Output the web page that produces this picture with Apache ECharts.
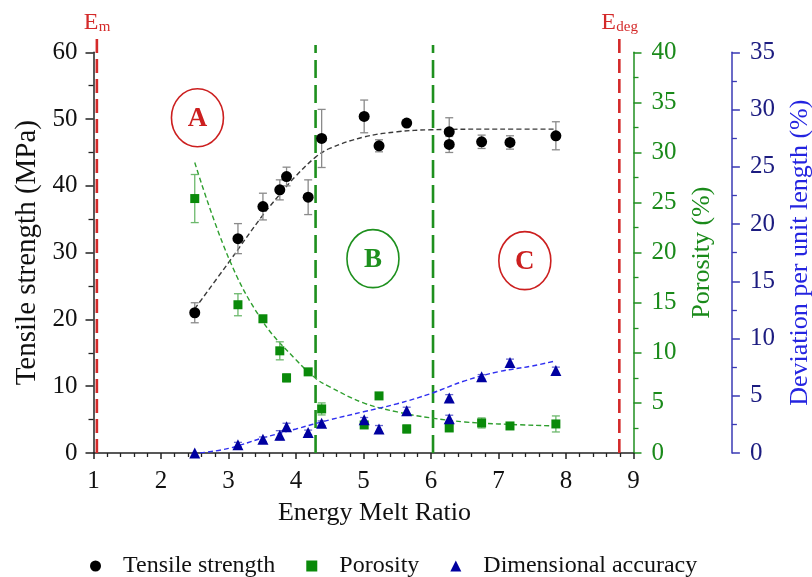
<!DOCTYPE html>
<html><head><meta charset="utf-8">
<script src="https://cdn.jsdelivr.net/npm/echarts@6/dist/echarts.min.js"></script>
<style>html,body{margin:0;padding:0;background:#fff}#c{width:812px;height:577px}</style>
</head><body><div id="c"></div>
<script>
// ---------------- data ----------------
const xTickLabels = ['1','2','3','4','5','6','7','8','9'];
const tensileX   = [2.50, 3.14, 3.51, 3.76, 3.86, 4.18, 4.38, 5.01, 5.23, 5.64, 6.27, 6.27, 6.75, 7.17, 7.85];
const tensileY   = [21.0, 32.1, 36.9, 39.4, 41.4, 38.3, 47.1, 50.4, 46.0, 49.4, 48.1, 46.2, 46.6, 46.5, 47.5];
const tensileErr = [1.5, 2.25, 2.0, 1.5, 1.4, 2.6, 4.35, 2.45, 0.9, 0, 2.1, 1.2, 1.0, 1.0, 2.1];
const porosityX   = [2.50, 3.14, 3.51, 3.76, 3.86, 4.18, 4.38, 5.01, 5.23, 5.64, 6.27, 6.75, 7.17, 7.85];
const porosityY   = [25.4, 14.8, 13.4, 10.2, 7.5, 8.1, 4.4, 2.8, 5.7, 2.4, 2.5, 3.0, 2.7, 2.9];
const porosityErr = [2.4, 1.1, 0.3, 0.9, 0.4, 0.3, 0.6, 0.3, 0.3, 0.4, 0.3, 0.5, 0.3, 0.8];
const accuracyX   = [2.50, 3.14, 3.51, 3.76, 3.86, 4.18, 4.38, 5.01, 5.23, 5.64, 6.27, 6.27, 6.75, 7.17, 7.85];
const accuracyY   = [0.0, 0.73, 1.2, 1.55, 2.3, 1.8, 2.6, 2.9, 2.1, 3.7, 4.8, 3.0, 6.65, 7.9, 7.2];
const accuracyErr = [0, 0.2, 0.2, 0.4, 0.3, 0.2, 0.2, 0.2, 0.3, 0.3, 0.3, 0.3, 0.2, 0.3, 0.3];
// dashed trend curves
const tensileFitX  = [2.5, 3.0, 3.5, 3.75, 4.0, 4.29, 4.5, 5.0, 5.5, 6.0, 7.0, 7.85];
const tensileFitY  = [21.6, 28.5, 35.5, 38.6, 41.5, 44.3, 45.6, 47.3, 48.1, 48.4, 48.5, 48.5];
const porosityFitX = [2.5, 3.0, 3.5, 4.0, 4.3, 4.5, 5.0, 5.5, 6.0, 6.5, 7.0, 7.85];
const porosityFitY = [29.0, 19.5, 13.2, 9.3, 7.4, 6.6, 5.0, 4.1, 3.5, 3.1, 2.9, 2.7];
const accuracyFitX = [2.58, 3.0, 3.5, 4.0, 4.5, 5.0, 5.5, 6.0, 6.5, 7.0, 7.5, 7.85];
const accuracyFitY = [0.0, 0.4, 1.3, 2.1, 2.9, 3.6, 4.3, 5.2, 6.3, 7.1, 7.6, 8.05];
// region boundaries and annotations
const boundaryX      = [1.05, 4.29, 6.03, 8.79];
const boundaryKind   = ['red', 'green', 'green', 'red'];
const energyLabelX   = [1.05, 8.79];
const energyLabelSub = ['m', 'deg'];
const regionLabels = ['A', 'B', 'C'];
const regionX      = [2.54, 5.14, 7.39];
const regionY      = [50.2, 29.1, 28.8];
const regionKind   = ['red', 'green', 'red'];

// ---------------- styles ----------------
const FONT = '"Liberation Serif", "Times New Roman", serif';
const RED = '#d42a2a', GREEN = '#1a8a1a', BLUE_AX = '#3a3ab4', BLUE_LBL = '#1c1c80', BLUE_TTL = '#2424e0';
const kindColor = {red: RED, green: '#1e901e'};

const ctx = document.createElement('canvas').getContext('2d');
function textW(t, size) { ctx.font = size + 'px ' + FONT; return ctx.measureText(t).width; }

function errorSeries(name, xs, ys, errs, yAxisIndex, color) {
  return {
    type: 'custom', name: name, yAxisIndex: yAxisIndex, z: 3, silent: true,
    data: xs.map((x, i) => [x, ys[i], errs[i]]),
    renderItem(params, api) {
      const x = api.value(0), y = api.value(1), e = api.value(2);
      if (!e) return null;
      const t = api.coord([x, y + e]), b = api.coord([x, y - e]);
      const hw = 4, st = {stroke: color, lineWidth: 1.3};
      return {type: 'group', children: [
        {type: 'line', shape: {x1: t[0], y1: t[1], x2: b[0], y2: b[1]}, style: st},
        {type: 'line', shape: {x1: t[0] - hw, y1: t[1], x2: t[0] + hw, y2: t[1]}, style: st},
        {type: 'line', shape: {x1: b[0] - hw, y1: b[1], x2: b[0] + hw, y2: b[1]}, style: st}
      ]};
    }
  };
}

const series = [];
// vertical dashed region boundaries
boundaryX.forEach((x, i) => {
  const isRed = boundaryKind[i] === 'red';
  series.push({
    type: 'line', name: 'boundary' + i, yAxisIndex: 0, symbol: 'none', clip: false, silent: true, z: 1,
    data: [[x, 0], [x, isRed ? 62.4 : 61.1]],
    lineStyle: {color: kindColor[boundaryKind[i]], width: 2.6, type: isRed ? [14, 6] : [18, 7]}
  });
});
// fits
series.push({type: 'line', name: 'tensileFit', yAxisIndex: 0, symbol: 'none', smooth: 0.4, silent: true, z: 2,
  data: tensileFitX.map((x, i) => [x, tensileFitY[i]]), lineStyle: {color: '#3a3a3a', width: 1.4, type: [5, 3]}});
series.push({type: 'line', name: 'porosityFit', yAxisIndex: 1, symbol: 'none', smooth: 0.4, silent: true, z: 2,
  data: porosityFitX.map((x, i) => [x, porosityFitY[i]]), lineStyle: {color: '#2f9f2f', width: 1.4, type: [5, 3]}});
series.push({type: 'line', name: 'accuracyFit', yAxisIndex: 2, symbol: 'none', smooth: 0.4, silent: true, z: 2,
  data: accuracyFitX.map((x, i) => [x, accuracyFitY[i]]), lineStyle: {color: '#3030f0', width: 1.4, type: [5, 3]}});
// error bars
series.push(errorSeries('tensileErr', tensileX, tensileY, tensileErr, 0, '#8a8a8a'));
series.push(errorSeries('porosityErr', porosityX, porosityY, porosityErr, 1, '#6cb86c'));
series.push(errorSeries('accuracyErr', accuracyX, accuracyY, accuracyErr, 2, '#6a6ad0'));
// points
series.push({type: 'scatter', name: 'Tensile strength', yAxisIndex: 0, symbol: 'circle', symbolSize: 11, z: 5,
  itemStyle: {color: '#000', opacity: 1}, data: tensileX.map((x, i) => [x, tensileY[i]])});
series.push({type: 'scatter', name: 'Porosity', yAxisIndex: 1, symbol: 'rect', symbolSize: 9, z: 5,
  itemStyle: {color: '#0a8a0a', opacity: 1}, data: porosityX.map((x, i) => [x, porosityY[i]])});
series.push({type: 'scatter', name: 'Dimensional accuracy', yAxisIndex: 2, symbol: 'triangle', symbolSize: 11, z: 5,
  itemStyle: {color: '#0000a0', opacity: 1}, data: accuracyX.map((x, i) => [x, accuracyY[i]])});
// region circles A, B, C
series.push({
  type: 'custom', name: 'regions', yAxisIndex: 0, silent: true, z: 4,
  data: regionX.map((x, i) => [x, regionY[i], i]),
  renderItem(params, api) {
    const i = api.value(2);
    const p = api.coord([api.value(0), api.value(1)]);
    const c = regionKind[i] === 'red' ? '#cc1f1f' : '#1e901e';
    return {type: 'group', x: p[0], y: p[1], children: [
      {type: 'ellipse', shape: {cx: 0, cy: 0, rx: 26, ry: 29}, style: {fill: null, stroke: c, lineWidth: 1.6}},
      {type: 'text', style: {text: regionLabels[i], x: 0, y: 1, align: 'center', verticalAlign: 'middle',
        fontSize: 27, fontWeight: 'bold', fontFamily: FONT, fill: c}}
    ]};
  }
});
// E_m / E_deg labels
series.push({
  type: 'custom', name: 'energyLabels', yAxisIndex: 0, silent: true, z: 4, clip: false,
  data: energyLabelX.map((x, i) => [x, 60, i]),
  renderItem(params, api) {
    const i = api.value(2);
    const p = api.coord([api.value(0), api.value(1)]);
    const sub = energyLabelSub[i];
    const wE = textW('E', 24), wS = textW(sub, 15);
    const off = (wE - wS) / 2;
    return {type: 'group', x: p[0], y: p[1], children: [
      {type: 'text', style: {text: 'E', x: off, y: -30, align: 'right', verticalAlign: 'middle',
        fontSize: 24, fontFamily: FONT, fill: RED}},
      {type: 'text', style: {text: sub, x: off + 0.5, y: -25, align: 'left', verticalAlign: 'middle',
        fontSize: 15, fontFamily: FONT, fill: RED}}
    ]};
  }
});

const yBase = {
  type: 'value', splitLine: {show: false},
  nameLocation: 'middle', nameRotate: 90
};

const option = {
  animation: false,
  backgroundColor: '#fff',
  textStyle: {fontFamily: FONT},
  grid: {left: 93.5, right: 178.5, top: 52.3, bottom: 124, containLabel: false, outerBoundsMode: 'none'},
  legend: {
    data: [{name: 'Tensile strength', icon: 'circle'}, {name: 'Porosity', icon: 'rect'}, {name: 'Dimensional accuracy', icon: 'triangle'}],
    left: 85, top: 549, itemWidth: 11, itemHeight: 11, itemGap: 31,
    formatter: n => '{p|}' + n,
    textStyle: {fontFamily: FONT, fontSize: 24, color: '#111', rich: {p: {width: 17}}}
  },
  xAxis: {
    type: 'value', min: 1, max: 9, interval: 1,
    axisLine: {show: true, onZero: false, lineStyle: {color: '#222', width: 1.5}},
    axisTick: {show: true, length: 6, lineStyle: {color: '#222', width: 1.5}},
    minorTick: {show: true, splitNumber: 5, length: 4, lineStyle: {color: '#222', width: 1.3}},
    axisLabel: {fontSize: 25, color: '#111', margin: 16, fontFamily: FONT,
      formatter: v => xTickLabels[Math.round(v) - 1]},
    splitLine: {show: false},
    name: 'Energy Melt Ratio', nameLocation: 'middle', nameGap: 47,
    nameTextStyle: {fontSize: 26, color: '#111', fontFamily: FONT, padding: [0, 0, 0, 22]}
  },
  yAxis: [
    Object.assign({}, yBase, {
      position: 'left', min: 0, max: 60, interval: 10,
      axisLine: {show: true, lineStyle: {color: '#222', width: 1.5}},
      axisTick: {show: true, length: 8, lineStyle: {color: '#222', width: 1.5}},
      minorTick: {show: true, splitNumber: 2, length: 5, lineStyle: {color: '#222', width: 1.3}},
      axisLabel: {fontSize: 25, color: '#111', margin: 16, fontFamily: FONT},
      name: 'Tensile strength (MPa)', nameGap: 52,
      nameTextStyle: {fontSize: 29, color: '#111', fontFamily: FONT}
    }),
    Object.assign({}, yBase, {
      position: 'right', min: 0, max: 40, interval: 5,
      axisLine: {show: true, lineStyle: {color: '#1f8f1f', width: 1.5}},
      axisTick: {show: true, length: 8, lineStyle: {color: '#1f8f1f', width: 1.5}},
      minorTick: {show: true, splitNumber: 2, length: 5, lineStyle: {color: '#1f8f1f', width: 1.3}},
      axisLabel: {fontSize: 25, color: GREEN, margin: 18, fontFamily: FONT},
      name: 'Porosity (%)', nameGap: 56,
      nameTextStyle: {fontSize: 26, color: GREEN, fontFamily: FONT}
    }),
    Object.assign({}, yBase, {
      position: 'right', offset: 98.4, min: 0, max: 35, interval: 5,
      axisLine: {show: true, lineStyle: {color: BLUE_AX, width: 1.5}},
      axisTick: {show: true, length: 8, lineStyle: {color: BLUE_AX, width: 1.5}},
      minorTick: {show: true, splitNumber: 2, length: 5, lineStyle: {color: BLUE_AX, width: 1.3}},
      axisLabel: {fontSize: 25, color: BLUE_LBL, margin: 18, fontFamily: FONT},
      name: 'Deviation per unit length (%)', nameGap: 55,
      nameTextStyle: {fontSize: 26, color: BLUE_TTL, fontFamily: FONT}
    })
  ],
  series: series
};

const chart = echarts.init(document.getElementById('c'), null, {renderer: 'canvas'});
chart.setOption(option);
</script>
</body></html>
